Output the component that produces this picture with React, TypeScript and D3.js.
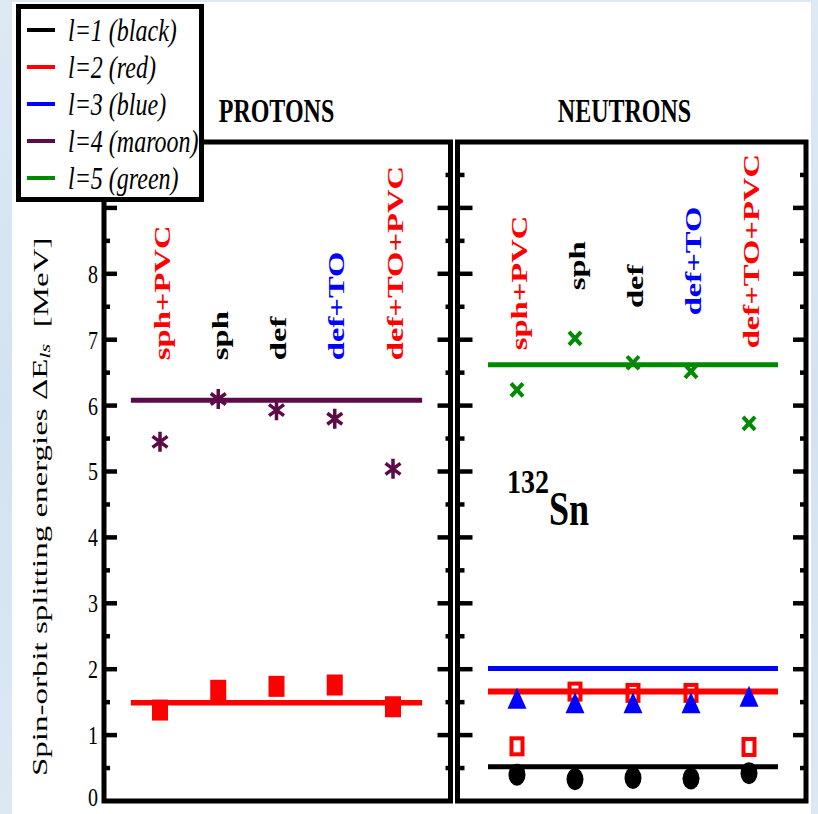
import React from "react";
import * as d3 from "d3";

// ---------- data ----------
const methods = ["sph+PVC", "sph", "def", "def+TO", "def+TO+PVC"];
const methodColors = ["#ff0000", "#000000", "#000000", "#0000ff", "#ff0000"];

const legendLabels = ["l=1 (black)", "l=2 (red)", "l=3 (blue)", "l=4 (maroon)", "l=5 (green)"];
const legendColors = ["#000000", "#ff0000", "#0000ff", "#5c0a48", "#008a00"];

const yTickLabels = [0, 1, 2, 3, 4, 5, 6, 7, 8];

// protons
const protonL4 = [5.45, 6.1, 5.93, 5.8, 5.04];
const protonL2 = [1.38, 1.68, 1.74, 1.76, 1.43];
const protonRefL4 = 6.08;
const protonRefL2 = 1.49;

// neutrons
const neutronL5 = [6.24, 7.02, 6.65, 6.52, 5.73];
const neutronL3 = [1.56, 1.49, 1.49, 1.49, 1.59];
const neutronL2 = [0.83, 1.66, 1.64, 1.64, 0.82];
const neutronL1 = [0.4, 0.33, 0.35, 0.34, 0.42];
const neutronRefL5 = 6.62;
const neutronRefL3 = 2.01;
const neutronRefL2 = 1.66;
const neutronRefL1 = 0.52;

// label anchor (in MeV units, where the rotated text starts)
const protonLabelBase = [6.69, 6.69, 6.69, 6.69, 6.69];
const neutronLabelBase = [6.84, 7.75, 7.48, 7.37, 6.87];

// ---------- layout ----------
const W = 818;
const H = 814;
const SERIF = "'Liberation Serif', 'Times New Roman', Times, serif";
const MAROON = "#5c0a48";
const GREEN = "#008a00";

const y = d3.scaleLinear().domain([0, 10]).range([801, 142]);
const xP = d3.scalePoint<string>().domain(methods).range([160, 393]);
const xN = d3.scalePoint<string>().domain(methods).range([517, 749]);

const majorTicks = d3.range(0, 10, 1);
const minorTicks = d3.range(0.5, 10, 1);

function Panel({ left, right, lMajor, lMinor, rMajor, rMinor }: any) {
  const top = y(10);
  const bottom = y(0);
  return (
    <g>
      <rect x={left} y={top} width={right - left} height={bottom - top} fill="none" stroke="#000" strokeWidth={5} />
      {majorTicks.filter((t) => t > 0).map((t) => (
        <g key={"M" + t}>
          <line x1={left} x2={left + lMajor} y1={y(t)} y2={y(t)} stroke="#000" strokeWidth={4.5} />
          <line x1={right} x2={right - rMajor} y1={y(t)} y2={y(t)} stroke="#000" strokeWidth={4.5} />
        </g>
      ))}
      {minorTicks.map((t) => (
        <g key={"m" + t}>
          <line x1={left} x2={left + lMinor} y1={y(t)} y2={y(t)} stroke="#000" strokeWidth={4.5} />
          <line x1={right} x2={right - rMinor} y1={y(t)} y2={y(t)} stroke="#000" strokeWidth={4.5} />
        </g>
      ))}
    </g>
  );
}

function RefLine({ xs, v, color, w = 5 }: any) {
  const half = xs.step() / 2;
  return (
    <line
      x1={xs(methods[0])! - half}
      x2={xs(methods[methods.length - 1])! + half}
      y1={y(v)}
      y2={y(v)}
      stroke={color}
      strokeWidth={w}
    />
  );
}

function MethodLabels({ xs, base }: any) {
  return (
    <g>
      {methods.map((m, i) => (
        <text
          key={m}
          transform={`translate(${xs(m) + 2},${y(base[i])}) scale(1,1.45) rotate(-90)`}
          fontFamily={SERIF}
          fontWeight="bold"
          fontSize={22.5}
          fill={methodColors[i]}
          dominantBaseline="central"
          textAnchor="start"
        >
          {m}
        </text>
      ))}
    </g>
  );
}

const asteriskPath = "M0,-10L0,10M-7.5,-5.5L7.5,5.5M-7.5,5.5L7.5,-5.5";
const crossPath = "M-6,-6.5L6,6.5M-6,6.5L6,-6.5";
const trianglePath = "M0,-10.5L9.5,10.5L-9.5,10.5Z";

export default function App() {
  return (
    <svg
      width={W}
      height={H}
      viewBox={`0 0 ${W} ${H}`}
      style={{ position: "absolute", left: 0, top: 0, display: "block" }}
    >
      <defs>
        <linearGradient id="bgGrad" x1="0" y1="0" x2="0" y2="1">
          <stop offset="0" stopColor="#dde9f5" />
          <stop offset="0.5" stopColor="#d3e2f2" />
          <stop offset="1" stopColor="#dce8f4" />
        </linearGradient>
      </defs>
      <rect x={0} y={0} width={W} height={H} fill="url(#bgGrad)" />
      <rect x={12} y={2} width={799} height={H} fill="#ffffff" />

      {/* titles */}
      <text transform="translate(276.5,122) scale(1,1.4)" textAnchor="middle" fontFamily={SERIF} fontWeight="bold" fontSize={24}>
        PROTONS
      </text>
      <text transform="translate(624.5,122) scale(1,1.4)" textAnchor="middle" fontFamily={SERIF} fontWeight="bold" fontSize={24}>
        NEUTRONS
      </text>

      {/* panels */}
      <Panel left={104} right={450.5} lMajor={13} lMinor={6} rMajor={13} rMinor={5} />
      <Panel left={457.5} right={806} lMajor={15} lMinor={7} rMajor={13} rMinor={6} />

      {/* y tick labels */}
      {yTickLabels.map((t) => (
        <text
          key={t}
          transform={`translate(98,${Math.min(y(t), 797.5)}) scale(1,1.3)`}
          textAnchor="end"
          dominantBaseline="central"
          fontFamily={SERIF}
          fontSize={20}
        >
          {t}
        </text>
      ))}

      {/* y axis title */}
      <text
        transform="translate(40,776) scale(1,1.5) rotate(-90)"
        fontFamily={SERIF}
        fontSize={22}
        dominantBaseline="central"
      >
        Spin-orbit splitting energies ΔE
        <tspan dy={5} fontSize={15} fontStyle="italic">ls</tspan>
        <tspan dy={-5}>{"\u00a0\u00a0[MeV]"}</tspan>
      </text>

      {/* ---------- protons ---------- */}
      <MethodLabels xs={xP} base={protonLabelBase} />
      <RefLine xs={xP} v={protonRefL4} color={MAROON} />
      <RefLine xs={xP} v={protonRefL2} color="#ff0000" w={5.5} />
      {methods.map((m, i) => (
        <path
          key={"pa" + m}
          d={asteriskPath}
          transform={`translate(${xP(m)},${y(protonL4[i])})`}
          stroke={MAROON}
          strokeWidth={3.5}
          fill="none"
        />
      ))}
      {methods.map((m, i) => (
        <rect
          key={"ps" + m}
          x={xP(m)! - 8}
          y={y(protonL2[i]) - 10.5}
          width={16}
          height={21}
          fill="#ff0000"
        />
      ))}

      {/* ---------- neutrons ---------- */}
      <MethodLabels xs={xN} base={neutronLabelBase} />
      <RefLine xs={xN} v={neutronRefL5} color={GREEN} />
      <RefLine xs={xN} v={neutronRefL3} color="#0000ff" />
      <RefLine xs={xN} v={neutronRefL2} color="#ff0000" w={6} />
      <RefLine xs={xN} v={neutronRefL1} color="#000000" />
      {methods.map((m, i) => (
        <path
          key={"nx" + m}
          d={crossPath}
          transform={`translate(${xN(m)},${y(neutronL5[i])})`}
          stroke={GREEN}
          strokeWidth={4}
          fill="none"
        />
      ))}
      {methods.map((m, i) => (
        <rect
          key={"nsq" + m}
          x={xN(m)! - 5.5}
          y={y(neutronL2[i]) - 8}
          width={11}
          height={16}
          fill="none"
          stroke="#ff0000"
          strokeWidth={4}
        />
      ))}
      {methods.map((m, i) => (
        <path
          key={"nt" + m}
          d={trianglePath}
          transform={`translate(${xN(m)},${y(neutronL3[i])})`}
          fill="#0000ff"
        />
      ))}
      {methods.map((m, i) => (
        <ellipse
          key={"nc" + m}
          cx={xN(m)}
          cy={y(neutronL1[i])}
          rx={8.5}
          ry={11}
          fill="#000000"
        />
      ))}

      {/* 132Sn */}
      <text transform="translate(507,493) scale(1,1.2)" fontFamily={SERIF} fontWeight="bold" fontSize={28}>
        132
      </text>
      <text transform="translate(549,525) scale(1,1.35)" fontFamily={SERIF} fontWeight="bold" fontSize={36}>
        Sn
      </text>

      {/* legend */}
      <rect x={18.5} y={6.5} width={183} height={193} fill="#ffffff" stroke="#000" strokeWidth={5} />
      {legendLabels.map((lab, i) => {
        const ly = 30 + i * 37;
        return (
          <g key={lab}>
            <line x1={27} x2={55} y1={ly} y2={ly} stroke={legendColors[i]} strokeWidth={4} />
            <text
              transform={`translate(68,${ly}) scale(1,1.3)`}
              fontFamily={SERIF}
              fontStyle="italic"
              fontSize={24}
              dominantBaseline="central"
            >
              {lab}
            </text>
          </g>
        );
      })}
    </svg>
  );
}
